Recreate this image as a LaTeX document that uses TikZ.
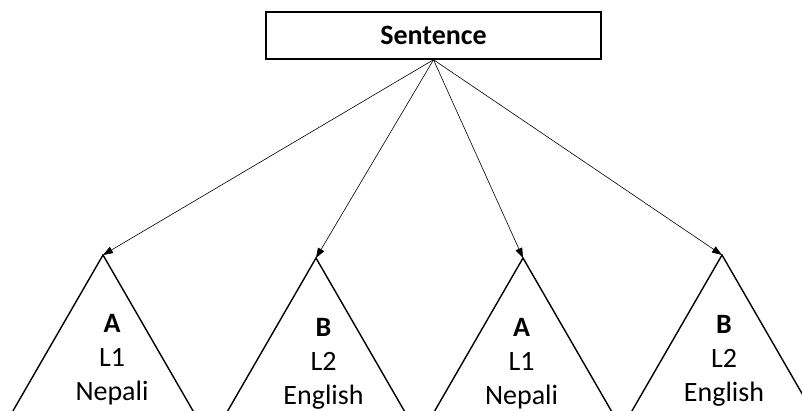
\documentclass[tikz,border=0pt]{standalone}
\usepackage{fontspec}
\setmainfont{Carlito}
\usetikzlibrary{arrows.meta}
\begin{document}
\begin{tikzpicture}[x=1pt,y=-1pt,
  rootbox/.style={draw, line width=1.5pt, minimum width=335pt, minimum height=47pt,
    inner sep=0pt, font=\fontsize{28}{34}\selectfont\bfseries},
  tri/.style={draw, line width=1.4pt, line join=miter},
  link/.style={line width=0.6pt, -{Triangle[length=10pt,width=7pt]}},
  leaf/.style={align=center, anchor=north, inner sep=0pt,
    font=\fontsize{28}{34}\selectfont}]
\useasboundingbox (0,0) rectangle (802,410);
\clip (0,0) rectangle (802,410);

% root
\node[rootbox] (sent) at (433.5,35.5) {Sentence};

% apexes of the equilateral triangles
\coordinate (t1) at (103,255);
\coordinate (t2) at (316,258);
\coordinate (t3) at (523,258);
\coordinate (t4) at (722,255);

\foreach \t in {t1,t2,t3,t4}
  \draw[tri] (\t) -- ++(-115.5,200) -- ++(231,0) -- cycle;

% labels inside the triangles
\node[leaf] (l1) at (112,314) {\textbf{A}\\L1\\Nepali};
\node[leaf] (l2) at (323.5,318) {\textbf{B}\\L2\\English};
\node[leaf] (l3) at (521.5,318) {\textbf{A}\\L1\\Nepali};
\node[leaf] (l4) at (724,315) {\textbf{B}\\L2\\English};

% connectors
\foreach \t in {t1,t2,t3,t4}
  \draw[link] (sent.south) -- (\t);
\end{tikzpicture}
\end{document}
